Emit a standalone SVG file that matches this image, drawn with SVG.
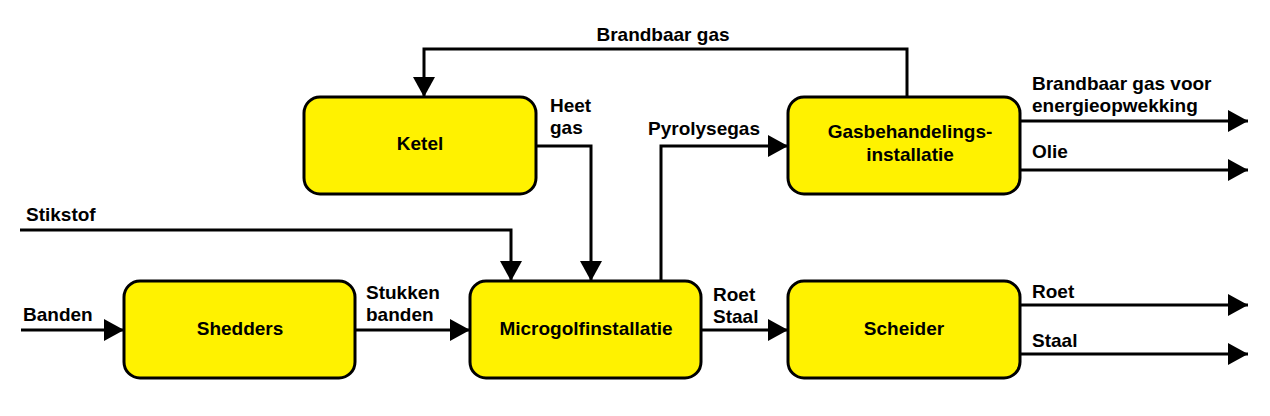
<svg xmlns="http://www.w3.org/2000/svg" width="1270" height="416" viewBox="0 0 1270 416">
<defs>
<style>
.box{fill:#FFF200;stroke:#000;stroke-width:3}
.ln{fill:none;stroke:#000;stroke-width:3}
text{font-family:"Liberation Sans",Arial,sans-serif;font-weight:bold;font-size:19px;fill:#000}
.c{text-anchor:middle}
</style>
<marker id="ah" markerUnits="userSpaceOnUse" markerWidth="20" markerHeight="22" refX="20" refY="11" orient="auto" viewBox="0 0 20 22">
<path d="M0,0 L20,11 L0,22 z" fill="#000"/>
</marker>
</defs>
<rect width="1270" height="416" fill="#fff"/>
<g id="connectors">
<path class="ln" d="M907,97 V49 H424 V97" marker-end="url(#ah)"/>
<path class="ln" d="M536,146 H591 V281" marker-end="url(#ah)"/>
<path class="ln" d="M20,230 H511 V281" marker-end="url(#ah)"/>
<path class="ln" d="M661,281 V146 H788" marker-end="url(#ah)"/>
<path class="ln" d="M1020,121 H1248" marker-end="url(#ah)"/>
<path class="ln" d="M1020,170 H1248" marker-end="url(#ah)"/>
<path class="ln" d="M21,330 H124" marker-end="url(#ah)"/>
<path class="ln" d="M355,330 H470" marker-end="url(#ah)"/>
<path class="ln" d="M701,330 H788" marker-end="url(#ah)"/>
<path class="ln" d="M1020,305 H1248" marker-end="url(#ah)"/>
<path class="ln" d="M1020,354 H1248" marker-end="url(#ah)"/>
<text x="663" y="41" class="c">Brandbaar gas</text>
<text x="550" y="112">Heet</text>
<text x="550" y="134">gas</text>
<text x="648" y="135">Pyrolysegas</text>
<text x="1032" y="90">Brandbaar gas voor</text>
<text x="1032" y="112">energieopwekking</text>
<text x="1032" y="158">Olie</text>
<text x="26" y="221">Stikstof</text>
<text x="23" y="321">Banden</text>
<text x="366" y="299">Stukken</text>
<text x="366" y="321">banden</text>
<text x="713" y="301">Roet</text>
<text x="713" y="323">Staal</text>
<text x="1032" y="298">Roet</text>
<text x="1032" y="347">Staal</text>
</g>
<g id="ketel">
<rect class="box" x="304" y="97" width="232" height="97" rx="16"/>
<text x="420" y="150" class="c">Ketel</text>
</g>
<g id="gasbehandeling">
<rect class="box" x="788" y="97" width="232" height="97" rx="16"/>
<text x="910" y="138" class="c">Gasbehandelings-</text>
<text x="910" y="161" class="c">installatie</text>
</g>
<g id="shedders">
<rect class="box" x="124" y="281" width="231" height="97" rx="16"/>
<text x="240" y="335" class="c">Shedders</text>
</g>
<g id="microgolf">
<rect class="box" x="470" y="281" width="231" height="97" rx="16"/>
<text x="586" y="335" class="c">Microgolfinstallatie</text>
</g>
<g id="scheider">
<rect class="box" x="788" y="281" width="232" height="97" rx="16"/>
<text x="904" y="335" class="c">Scheider</text>
</g>
</svg>
